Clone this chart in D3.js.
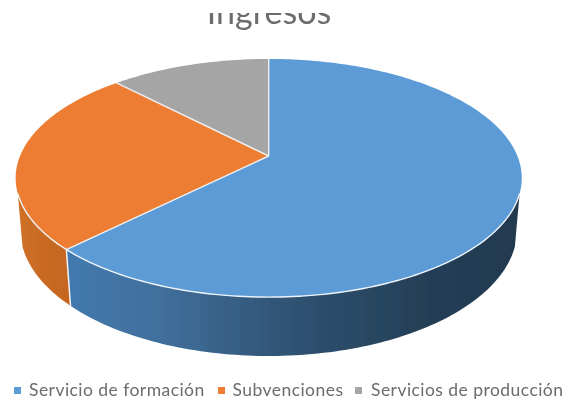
<!DOCTYPE html>
<html>
<head>
<meta charset="utf-8">
<title>Ingresos</title>
<script src="https://cdn.jsdelivr.net/npm/d3@7"></script>
<style>
html, body { margin: 0; padding: 0; background: #fff; }
svg { display: block; }
text { font-family: Lato, "Open Sans", sans-serif; fill: #6c6c6c; }
</style>
</head>
<body>
<script>
'use strict';

var titleText = "Ingresos";
var categories = ["Servicio de formación", "Subvenciones", "Servicios de producción"];
var values = [62.5, 25.3, 12.2];
var topColors = ["#5b9bd5", "#ed7d31", "#a5a5a5"];
var sideStops = [
	[[0, "#4379ae"], [0.2, "#41709d"], [0.5, "#2f5272"], [0.8, "#243e55"], [1, "#223a50"]],
	[[0, "#cf7028"], [1, "#c4651f"]],
	[[0, "#7c7c7c"], [1, "#7c7c7c"]]
];

var width = 573;
var height = 401;

/******************** Pie perspective ***********************/

var apexX = 268.7;
var apexY = 156;
var radiusX = 248.7;
var radiusY = 115;
var tilt = 0.185;       // how much the far edge shrinks
var depth = 51.6;       // height of the disc
var depthShrink = 0.018;
var sideLimit = 108 * Math.PI / 180;  // where the wall leaves the silhouette

function project(angle, lower) {
	var X = Math.sin(angle);
	var Y = Math.cos(angle);
	var w = 1 + tilt * Y + (lower ? depthShrink : 0);
	return [apexX + radiusX * X / w, apexY + (-radiusY * Y + (lower ? depth : 0)) / w];
}

function arcPoints(a0, a1, lower) {
	var n = Math.max(2, Math.ceil(Math.abs(a1 - a0) / 0.02));
	return d3.range(n + 1).map(function(i) {
		return project(a0 + (a1 - a0) * i / n, lower);
	});
}

var line = d3.line();

var svg = d3.select("body").append("svg").attr("width", width).attr("height", height);
var defs = svg.append("defs");

defs.append("clipPath").attr("id", "titleClip").append("rect")
	.attr("x", 0).attr("y", 13).attr("width", width).attr("height", 60);

var soft = defs.append("filter").attr("id", "soft");
soft.append("feGaussianBlur").attr("stdDeviation", 0.45);

// slices run clockwise from 12 o'clock: blue first
var slices = d3.pie().sort(null)(values);

/******************** Side walls ***********************/

var wallLayer = svg.append("g").attr("filter", "url(#soft)");

slices.forEach(function(s, i) {
	var a0 = Math.max(s.startAngle, sideLimit);
	var a1 = Math.min(s.endAngle, 2 * Math.PI - sideLimit);
	if (a1 <= a0) return;

	var upper = arcPoints(a0, a1, false);
	var lowerArc = arcPoints(a1, a0, true);
	var xs = upper.concat(lowerArc).map(function(p) { return p[0]; });

	var grad = defs.append("linearGradient")
		.attr("id", "side" + i)
		.attr("gradientUnits", "userSpaceOnUse")
		.attr("x1", d3.min(xs)).attr("y1", 0)
		.attr("x2", d3.max(xs)).attr("y2", 0);
	sideStops[i].forEach(function(st) {
		grad.append("stop").attr("offset", st[0]).attr("stop-color", st[1]);
	});

	wallLayer.append("path")
		.attr("d", line(upper.concat(lowerArc)) + "Z")
		.attr("fill", "url(#side" + i + ")");
});

// white seam where orange meets blue on the wall
var seam = slices[0].endAngle;
wallLayer.append("path")
	.attr("d", line([project(seam, false), project(seam, true)]))
	.attr("stroke", "#f4f4f4").attr("stroke-width", 1.5).attr("fill", "none");

/******************** Top surface ***********************/

var topLayer = svg.append("g").attr("filter", "url(#soft)");

slices.forEach(function(s, i) {
	var pts = [[apexX, apexY]].concat(arcPoints(s.startAngle, s.endAngle, false));
	topLayer.append("path")
		.attr("d", line(pts) + "Z")
		.attr("fill", topColors[i]);
});

// seams between slices
slices.forEach(function(s) {
	topLayer.append("path")
		.attr("d", line([[apexX, apexY], project(s.startAngle, false)]))
		.attr("stroke", "#eef0f2").attr("stroke-width", 1.4).attr("fill", "none");
});

// light rim only along the front edge
topLayer.append("path")
	.attr("d", line(arcPoints(sideLimit, 2 * Math.PI - sideLimit, false)))
	.attr("stroke", "#eef4fa").attr("stroke-width", 1.4).attr("fill", "none");

/******************** Title and legend ***********************/

svg.append("g").attr("clip-path", "url(#titleClip)")
	.append("text")
	.attr("x", 269).attr("y", 24)
	.attr("text-anchor", "middle")
	.attr("font-size", 34)
	.attr("filter", "url(#soft)")
	.text(titleText);

var legendSwatchX = [14, 218, 355];
var legendTextX = [29, 232.5, 371];

var legend = svg.append("g").attr("filter", "url(#soft)");
categories.forEach(function(c, i) {
	legend.append("rect")
		.attr("x", legendSwatchX[i]).attr("y", 387)
		.attr("width", 7).attr("height", 7)
		.attr("fill", topColors[i]);
	legend.append("text")
		.attr("x", legendTextX[i]).attr("y", 396)
		.attr("font-size", 17.5)
		.attr("letter-spacing", 0.45)
		.text(c);
});
</script>
</body>
</html>
